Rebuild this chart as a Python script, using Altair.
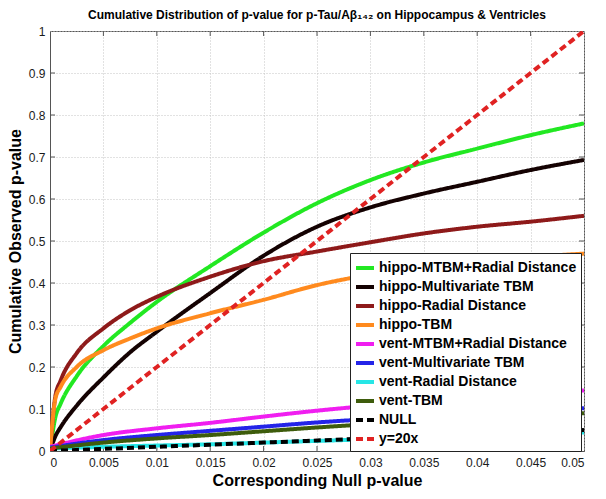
import altair as alt
import pandas as pd

# ---- data ----
X_FINE = [0, 0.0005, 0.001, 0.0025, 0.005, 0.0075, 0.01, 0.015, 0.02, 0.025, 0.03, 0.035, 0.04, 0.045, 0.05]
X_COARSE = [0, 0.005, 0.01, 0.015, 0.02, 0.025, 0.03, 0.035, 0.04, 0.045, 0.05]

hippo_mtbm_radial = [0.0, 0.08, 0.113, 0.178, 0.25, 0.305, 0.355, 0.44, 0.52, 0.59, 0.645, 0.687, 0.72, 0.752, 0.78]
hippo_multivariate = [0.0, 0.035, 0.057, 0.108, 0.175, 0.235, 0.284, 0.376, 0.465, 0.534, 0.58, 0.613, 0.641, 0.669, 0.693]
hippo_radial = [0.0, 0.13, 0.168, 0.233, 0.292, 0.335, 0.367, 0.415, 0.452, 0.475, 0.497, 0.518, 0.534, 0.546, 0.56]
hippo_tbm = [0.0, 0.124, 0.153, 0.2, 0.24, 0.268, 0.292, 0.328, 0.36, 0.395, 0.42, 0.438, 0.452, 0.462, 0.47]

vent_mtbm_radial = [0.01, 0.038, 0.054, 0.067, 0.082, 0.096, 0.108, 0.119, 0.128, 0.136, 0.144]
vent_multivariate = [0.008, 0.026, 0.038, 0.048, 0.058, 0.068, 0.076, 0.083, 0.09, 0.096, 0.102]
vent_radial = [0.006, 0.01, 0.013, 0.016, 0.02, 0.024, 0.028, 0.032, 0.036, 0.04, 0.044]
vent_tbm = [0.006, 0.02, 0.03, 0.038, 0.047, 0.056, 0.064, 0.071, 0.078, 0.084, 0.09]

null_y = [0, 0.005, 0.01, 0.015, 0.02, 0.025, 0.03, 0.035, 0.04, 0.045, 0.05]
y20x = [0, 0.1, 0.2, 0.3, 0.4, 0.5, 0.6, 0.7, 0.8, 0.9, 1.0]

SERIES = [
    "hippo-MTBM+Radial Distance", "hippo-Multivariate TBM", "hippo-Radial Distance", "hippo-TBM",
    "vent-MTBM+Radial Distance", "vent-Multivariate TBM", "vent-Radial Distance", "vent-TBM",
    "NULL", "y=20x",
]
COLORS = ["#22e822", "#140202", "#8e1a1a", "#ff8a1e", "#f01ef0", "#2424e8", "#26e6e6", "#3e5c0c", "#000000", "#e02222"]
DASHES = [[1, 0]] * 8 + [[7, 4], [7, 4]]
WIDTHS = [4, 4, 4, 4, 4, 4, 4, 4, 2.5, 2.2]

X_TICKS = [0, 0.005, 0.01, 0.015, 0.02, 0.025, 0.03, 0.035, 0.04, 0.045, 0.05]
Y_TICKS = [0, 0.1, 0.2, 0.3, 0.4, 0.5, 0.6, 0.7, 0.8, 0.9, 1.0]

rows = []
for name, xs, ys in [
    (SERIES[0], X_FINE, hippo_mtbm_radial),
    (SERIES[1], X_FINE, hippo_multivariate),
    (SERIES[2], X_FINE, hippo_radial),
    (SERIES[3], X_FINE, hippo_tbm),
    (SERIES[4], X_COARSE, vent_mtbm_radial),
    (SERIES[5], X_COARSE, vent_multivariate),
    (SERIES[6], X_COARSE, vent_radial),
    (SERIES[7], X_COARSE, vent_tbm),
    (SERIES[8], X_COARSE, null_y),
    (SERIES[9], X_COARSE, y20x),
]:
    for xv, yv in zip(xs, ys):
        rows.append({"series": name, "x": xv, "y": yv, "order": SERIES.index(name)})
df = pd.DataFrame(rows)

W, H = 534, 420
FONT = "Liberation Sans"

xscale = alt.Scale(domain=[0, 0.05], nice=False, zero=False)
yscale = alt.Scale(domain=[0, 1], nice=False)

legend_kw = dict(orient="none", legendX=300, legendY=222, title=None,
                 symbolType="stroke", symbolSize=324, symbolStrokeWidth=3.5,
                 labelFont=FONT, labelFontSize=14, labelFontWeight="bold",
                 labelColor="black", labelOffset=3, labelLimit=400,
                 strokeColor="#222", fillColor="white", padding=4, rowPadding=0)

lines = alt.Chart(df).mark_line(interpolate="monotone", clip=True).encode(
    x=alt.X("x:Q", scale=xscale, title="Corresponding Null p-value",
            axis=alt.Axis(values=X_TICKS, format="~g", grid=True, tickSize=0, labelPadding=6,
                          titlePadding=4)),
    y=alt.Y("y:Q", scale=yscale, title="Cumulative Observed p-value",
            axis=alt.Axis(values=Y_TICKS, format="~g", grid=True, tickSize=0, labelPadding=5,
                          titlePadding=5)),
    color=alt.Color("series:N", scale=alt.Scale(domain=SERIES, range=COLORS),
                    legend=alt.Legend(**legend_kw)),
    strokeDash=alt.StrokeDash("series:N", scale=alt.Scale(domain=SERIES, range=DASHES),
                              legend=alt.Legend(**legend_kw)),
    strokeWidth=alt.StrokeWidth("series:N", scale=alt.Scale(domain=SERIES, range=WIDTHS), legend=None),
    order="order:Q",
    detail="series:N",
)

ticks_df_x = pd.DataFrame({"t": X_TICKS[1:-1]})
ticks_df_y = pd.DataFrame({"t": Y_TICKS[1:-1]})
tick_color = "#555555"
xt_bottom = alt.Chart(ticks_df_x).mark_rule(color=tick_color, strokeWidth=1).encode(
    x=alt.X("t:Q", scale=xscale), y=alt.value(H), y2=alt.value(H - 5))
xt_top = alt.Chart(ticks_df_x).mark_rule(color=tick_color, strokeWidth=1).encode(
    x=alt.X("t:Q", scale=xscale), y=alt.value(0), y2=alt.value(5))
yt_left = alt.Chart(ticks_df_y).mark_rule(color=tick_color, strokeWidth=1).encode(
    y=alt.Y("t:Q", scale=yscale), x=alt.value(0), x2=alt.value(5))
yt_right = alt.Chart(ticks_df_y).mark_rule(color=tick_color, strokeWidth=1).encode(
    y=alt.Y("t:Q", scale=yscale), x=alt.value(W), x2=alt.value(W - 5))

chart = alt.layer(xt_bottom, xt_top, yt_left, yt_right, lines).properties(
    width=W, height=H,
    title=alt.Title("Cumulative Distribution of p-value for p-Tau/Aβ₁₄₂ on Hippocampus & Ventricles",
                    fontSize=12, font=FONT, fontWeight="bold", color="black", anchor="middle", offset=3),
    autosize=alt.AutoSizeParams(type="none"),
    padding={"left": 42, "top": 23, "right": 14, "bottom": 40},
).configure_view(
    stroke="#555555", strokeWidth=1
).configure_axis(
    labelFont=FONT, labelFontSize=12, labelColor="#1a1a1a",
    titleFont=FONT, titleFontSize=16, titleFontWeight="bold", titleColor="black",
    domainColor="#555555", domainWidth=1,
    gridColor="#c4c4c4", gridDash=[1, 2], gridWidth=1,
)

chart.save("out.html", embed_options={"renderer": "svg", "actions": False})
